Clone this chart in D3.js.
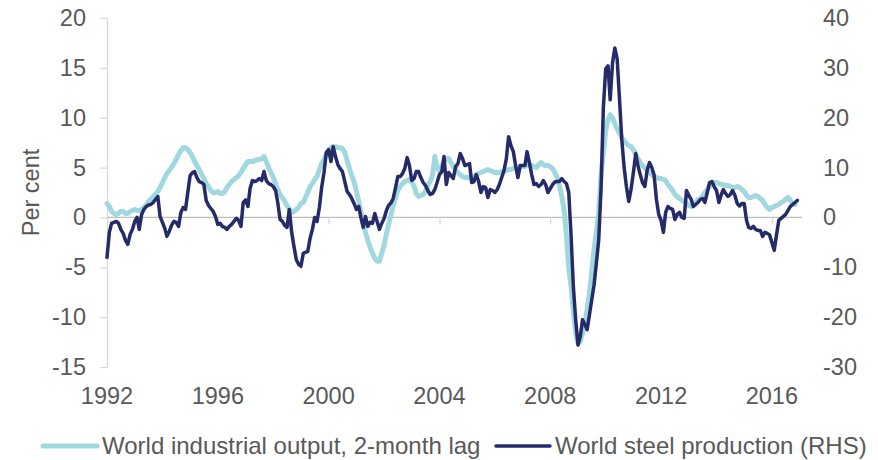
<!DOCTYPE html>
<html>
<head>
<meta charset="utf-8">
<script src="https://cdn.jsdelivr.net/npm/d3@7/dist/d3.min.js"></script>
<style>
  html, body { margin: 0; padding: 0; background: #ffffff; }
  svg { display: block; }
  text { font-family: "Liberation Sans", Arial, sans-serif; fill: #595959; }
</style>
</head>
<body>
<svg id="chart" width="878" height="460"></svg>
<script>
// Monthly series, first observation January 1992
const firstMonth = "1992-01";

// World industrial output, year-ended % change, 2-month lag (left axis)
const industrialOutput = [
  1.4, 1.1, 0.6, 0.4, 0.3, 0.4, 0.6, 0.6, 0.4, 0.4, 0.6, 0.7,
  0.8, 0.7, 0.7, 0.8, 1.0, 1.2, 1.6, 1.8, 2.1, 2.3, 2.6, 3.0,
  3.5, 4.0, 4.4, 4.7, 5.0, 5.4, 5.8, 6.3, 6.7, 7.0, 7.0, 6.8,
  6.5, 6.1, 5.6, 5.2, 4.8, 4.3, 3.9, 3.4, 3.1, 2.7, 2.5, 2.5,
  2.6, 2.4, 2.4, 2.6, 3.0, 3.3, 3.6, 3.8, 4.0, 4.2, 4.5, 4.9,
  5.3, 5.6, 5.6, 5.6, 5.7, 5.8, 5.8, 5.9, 6.1, 5.6, 5.0, 4.5,
  4.0, 3.4, 2.8, 2.3, 2.0, 1.6, 1.2, 0.8, 0.5, 0.6, 0.8, 1.0,
  1.4, 1.5, 2.0, 2.5, 3.1, 3.4, 3.8, 4.1, 4.8, 5.4, 5.8, 6.4,
  6.7, 7.0, 7.1, 7.1, 7.0, 7.0, 6.9, 6.5, 5.7, 4.9, 4.2, 3.6,
  2.6, 1.6, 0.6, -0.5, -1.5, -2.3, -3.0, -3.6, -4.1, -4.4, -4.4, -3.6,
  -2.8, -1.6, -0.7, 0.2, 1.2, 2.0, 2.7, 3.1, 3.4, 3.6, 3.7, 3.8,
  3.6, 3.1, 2.4, 2.1, 2.2, 2.3, 2.6, 3.2, 3.6, 4.2, 6.1, 4.9,
  4.7, 5.2, 5.6, 5.9, 5.9, 5.5, 5.1, 4.8, 4.5, 4.3, 4.1, 4.0,
  4.0, 4.0, 4.1, 4.1, 4.3, 4.4, 4.5, 4.6, 4.7, 4.8, 4.7, 4.6,
  4.5, 4.5, 4.5, 4.6, 4.6, 4.7, 4.8, 4.8, 4.9, 5.0, 5.0, 5.1,
  5.1, 5.1, 5.2, 5.3, 5.2, 5.1, 5.0, 5.3, 5.5, 5.3, 5.2, 5.2,
  5.1, 4.9, 4.5, 4.0, 3.2, 2.1, 0.8, -1.8, -5.0, -6.9, -9.5, -11.6,
  -12.6, -12.4, -11.6, -10.8, -9.2, -7.6, -5.4, -3.2, -1.4, 0.5, 4.3, 6.5,
  8.7, 9.8, 10.3, 10.0, 9.4, 8.9, 8.5, 8.0, 7.7, 7.4, 7.2, 7.1,
  6.8, 6.3, 5.9, 5.5, 5.2, 5.0, 4.7, 4.5, 4.3, 4.1, 4.0, 3.9,
  3.9, 3.8, 3.7, 3.3, 3.0, 2.7, 2.3, 2.1, 1.9, 1.7, 1.6, 1.4,
  1.2, 1.1, 1.2, 1.5, 1.8, 1.9, 2.1, 2.5, 2.8, 3.1, 3.4, 3.5,
  3.5, 3.4, 3.3, 3.3, 3.2, 3.2, 3.1, 3.0, 3.0, 3.1, 3.0, 2.8,
  2.6, 2.2, 2.0, 2.0, 2.1, 2.2, 2.1, 1.9, 1.7, 1.3, 1.0, 0.8,
  1.0, 1.1, 1.2, 1.3, 1.5, 1.6, 1.8, 2.0, 1.7, 1.4, 1.3
];

// World steel production, year-ended % change (right axis)
const steelProduction = [
  -8.0, -3.0, -1.2, -1.0, -0.8, -1.2, -2.4, -3.2, -4.6, -5.4, -3.4, -2.4,
  -0.8, 0.0, -2.4, 0.6, 1.6, 2.2, 2.5, 2.6, 3.0, 3.6, 4.2, 0.2,
  -1.0, -2.2, -3.8, -2.8, -1.6, -0.8, -1.0, -1.8, 1.0, 2.0, 1.6, 5.0,
  8.4, 9.0, 9.2, 8.0, 7.2, 7.0, 6.6, 3.4, 2.4, 1.8, 1.2, 0.2,
  -1.4, -1.2, -1.8, -2.0, -2.4, -1.8, -1.4, -0.8, -0.2, -0.6, -1.8, 3.0,
  3.5, 2.2, 5.8, 7.4, 7.2, 7.4, 7.8, 7.4, 9.2, 7.4, 6.8, 6.6,
  6.2, 5.4, 3.0, -0.4, -0.8, -1.6, -2.0, 1.6, -3.0, -5.8, -8.5, -9.4,
  -9.8, -7.2, -7.0, -6.8, -4.2, -2.4, 0.0, -0.8, 2.0, 6.0, 9.0, 13.0,
  13.6, 11.2, 14.2, 12.2, 10.6, 9.8, 9.2, 7.2, 5.2, 4.6, 3.8, 2.8,
  1.6, 2.2, 0.0, -2.0, 0.2, -1.8, -1.0, -1.2, 0.8, -0.8, -2.4, -1.2,
  -0.2, 1.4, 2.4, 2.9, 3.8, 6.0, 8.2, 8.2, 8.8, 9.8, 12.0, 10.4,
  7.4, 7.8, 9.2, 9.2, 8.0, 7.0, 6.4, 5.4, 4.6, 4.8, 5.6, 7.0,
  8.6, 9.2, 12.2, 6.6, 9.0, 8.4, 7.8, 10.2, 10.8, 12.8, 11.8, 10.4,
  10.6, 10.8, 7.0, 7.2, 8.6, 7.2, 5.0, 6.2, 6.0, 4.0, 5.6, 5.4,
  5.0, 5.6, 6.6, 8.0, 9.4, 11.8, 16.2, 14.4, 13.2, 10.4, 8.0, 10.4,
  10.4, 10.4, 13.2, 11.0, 8.6, 6.6, 6.8, 6.2, 6.6, 7.4, 6.6, 5.0,
  5.8, 6.6, 7.1, 7.2, 7.2, 7.8, 7.2, 6.8, 5.0, -3.5, -14.0, -20.5,
  -25.6, -23.8, -20.5, -21.5, -22.5, -19.5, -16.5, -13.5, -9.0, -4.5, 6.0, 22.0,
  29.8, 30.4, 23.6, 31.0, 34.0, 31.8, 24.0, 15.6, 10.0, 6.2, 3.2, 5.6,
  9.0, 12.8, 10.5, 8.6, 7.0, 6.2, 9.4, 11.0, 10.0, 8.5, 3.6, 0.6,
  -0.6, -3.0, 1.0, 2.2, 1.8, 1.6, -0.4, 0.6, 1.0, 0.0, -0.2, 5.4,
  4.4, 3.6, 2.2, 2.6, 3.0, 3.6, 3.8, 3.0, 5.0, 7.0, 7.2, 6.2,
  5.4, 3.0, 4.4, 5.6, 4.8, 4.2, 4.6, 5.4, 4.4, 2.8, 2.3, 2.8,
  2.8, -0.6, -2.0, -2.2, -1.8, -2.4, -2.6, -2.6, -3.8, -3.0, -3.2, -3.5,
  -5.0, -6.6, -3.6, -0.6, -0.2, 0.2, 0.6, 1.4, 2.2, 2.6, 3.0, 3.4
];

const leftTicks = [20, 15, 10, 5, 0, -5, -10, -15];
const rightTicks = [40, 30, 20, 10, 0, -10, -20, -30];
const yearTicks = ["1992", "1996", "2000", "2004", "2008", "2012", "2016"];

const seriesNames = ["World industrial output, 2-month lag", "World steel production (RHS)"];
const seriesColors = ["#9fd9df", "#252a69"];

const svg = d3.select("#chart");
const parseMonth = d3.timeParse("%Y-%m");
const start = parseMonth(firstMonth);
const monthAt = i => d3.timeMonth.offset(start, i);

const plot = { left: 107, right: 802, top: 18, bottom: 367 };

const x = d3.scaleTime()
  .domain([start, d3.timeMonth.offset(start, 301)])
  .range([plot.left, plot.right]);
const yLeft = d3.scaleLinear().domain([-15, 20]).range([plot.bottom, plot.top]);
const yRight = d3.scaleLinear().domain([-30, 40]).range([plot.bottom, plot.top]);

const tickFont = "23.5px";
const plainNumber = d => String(d);   // keep an ASCII hyphen for negatives

// Left axis: vertical rule with outward ticks
const leftAxis = svg.append("g")
  .attr("transform", `translate(${plot.left},0)`)
  .call(d3.axisLeft(yLeft).tickValues(leftTicks).tickSize(7).tickPadding(14).tickFormat(plainNumber));
leftAxis.select(".domain").attr("stroke", "#d9d9d9").attr("stroke-width", 1.2);
leftAxis.selectAll(".tick line").attr("stroke", "#d9d9d9").attr("stroke-width", 1.2);
leftAxis.selectAll(".tick text")
  .style("font-size", tickFont).attr("fill", "#595959")
  .attr("font-family", "Liberation Sans, Arial, sans-serif");

// Right axis: labels only
const rightAxis = svg.append("g")
  .attr("transform", `translate(${plot.right},0)`)
  .call(d3.axisRight(yRight).tickValues(rightTicks).tickSize(0).tickPadding(21).tickFormat(plainNumber));
rightAxis.select(".domain").remove();
rightAxis.selectAll(".tick text")
  .style("font-size", tickFont).attr("fill", "#595959")
  .attr("font-family", "Liberation Sans, Arial, sans-serif");

// Horizontal axis along zero, with year ticks hanging below it
const yearDates = yearTicks.map(t => parseMonth(t + "-01"));
const zeroAxis = svg.append("g")
  .attr("transform", `translate(0,${yLeft(0)})`)
  .call(d3.axisBottom(x).tickValues(yearDates).tickSize(7).tickFormat(""));
zeroAxis.select(".domain").attr("stroke", "#bfbfbf").attr("stroke-width", 1.2)
  .attr("d", `M${plot.left},0H${plot.right}`);
zeroAxis.selectAll(".tick line").attr("stroke", "#d9d9d9").attr("stroke-width", 1.2);

// Year labels sit below the plot area
svg.append("g")
  .selectAll("text")
  .data(yearDates)
  .join("text")
  .attr("x", d => x(d))
  .attr("y", 404)
  .attr("text-anchor", "middle")
  .style("font-size", tickFont)
  .text((d, i) => yearTicks[i]);

// Left axis title
svg.append("text")
  .attr("transform", `translate(39,${(plot.top + plot.bottom) / 2}) rotate(-90)`)
  .attr("text-anchor", "middle")
  .style("font-size", tickFont)
  .text("Per cent");

// Series lines
const ipLine = d3.line()
  .x((d, i) => x(monthAt(i)))
  .y(d => yLeft(d));
const steelLine = d3.line()
  .x((d, i) => x(monthAt(i)))
  .y(d => yRight(d));

svg.append("path")
  .datum(industrialOutput)
  .attr("d", ipLine)
  .attr("fill", "none")
  .attr("stroke", seriesColors[0])
  .attr("stroke-width", 5)
  .attr("stroke-linejoin", "round")
  .attr("stroke-linecap", "round");

svg.append("path")
  .datum(steelProduction)
  .attr("d", steelLine)
  .attr("fill", "none")
  .attr("stroke", seriesColors[1])
  .attr("stroke-width", 3.5)
  .attr("stroke-linejoin", "round")
  .attr("stroke-linecap", "round");

// Legend
const legendItems = [
  { name: seriesNames[0], color: seriesColors[0], width: 5, x0: 43 },
  { name: seriesNames[1], color: seriesColors[1], width: 3.5, x0: 496 }
];
const legend = svg.append("g");
legendItems.forEach(item => {
  legend.append("line")
    .attr("x1", item.x0).attr("x2", item.x0 + 54)
    .attr("y1", 446).attr("y2", 446)
    .attr("stroke", item.color)
    .attr("stroke-width", item.width)
    .attr("stroke-linecap", "round");
  legend.append("text")
    .attr("x", item.x0 + 59)
    .attr("y", 454)
    .style("font-size", "24px")
    .text(item.name);
});
</script>
</body>
</html>
